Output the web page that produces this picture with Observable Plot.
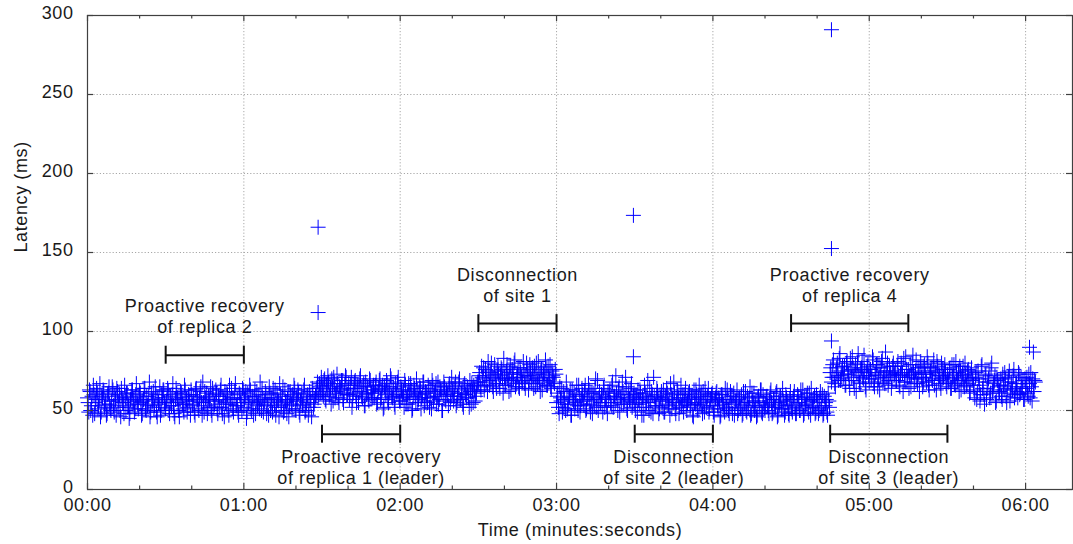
<!DOCTYPE html>
<html><head><meta charset="utf-8">
<script src="https://cdn.jsdelivr.net/npm/d3@7"></script>
<script src="https://cdn.jsdelivr.net/npm/@observablehq/plot@0.6"></script>
<style>body{margin:0;background:#fff} #chart svg{display:block}</style>
</head><body><div id="chart"></div>
<script>
// sampling period (s) and start time (s) of each run of samples
const sampleStep = 0.5;
const secondSetOffset = 0.25;
const segStart = [0, 88, 150, 180, 285, 340];

// latency (ms) samples (first set)
const latA = [
 58,49,62,53,47,60,55,64,51,57,46,59,63,52,56,48,61,54,50,65,
 53,59,47,62,56,50,64,55,48,58,61,52,45,57,63,54,49,60,56,51,
 62,55,48,57,64,50,53,59,46,61,56,52,65,49,58,54,47,60,63,55,
 51,57,62,48,55,60,53,46,64,58,50,56,61,54,49,63,57,52,59,47,
 60,54,49,63,56,51,58,65,47,55,62,53,48,59,57,50,64,52,56,61,
 48,57,63,52,59,46,55,61,50,66,54,58,49,62,53,57,47,60,55,64,
 52,58,45,61,56,63,50,54,59,48,62,55,51,57,64,49,56,60,53,47,
 61,55,49,58,63,52,57,46,60,54,65,50,56,48,62,53,59,51,57,64,
 50,56,61,47,58,53,63,49,55,60,52,57,46,62,54,59];
const latB = [
 64,58,67,61,
 66,59,70,56,63,68,60,54,65,71,58,62,67,55,64,69,57,61,72,60,
 63,57,66,52,61,68,59,64,55,70,62,58,67,53,60,65,56,69,61,63,
 58,66,54,62,69,57,63,51,65,60,67,55,61,70,58,64,52,62,68,59,
 56,63,60,52,66,58,54,61,67,50,59,64,55,62,57,65,51,60,68,56,
 61,55,64,58,51,66,59,62,54,68,57,63,50,60,65,56,61,53,67,59,
 62,56,65,53,59,68,57,61,54,66,60,58,64,52,62,67,55,63,59,66];
const latC = [
 68,74,63,71,77,66,72,62,75,69,80,65,73,70,64,78,67,72,76,61,
 71,66,79,69,74,63,76,70,82,67,73,65,77,71,68,75,64,80,72,69,
 74,67,72,78,65,70,81,68,75,63,73,69,77,66,71,79,64,72,68,76];
const latD = [
 55,61,48,58,64,52,57,50,62,54,59,47,63,56,51,60,53,66,49,57,
 60,54,66,51,58,63,49,56,61,53,70,57,50,62,55,59,64,52,58,48,
 57,63,53,68,59,55,61,50,65,58,54,62,56,71,51,60,57,64,52,59,
 54,60,49,57,63,52,58,47,61,55,69,50,56,62,48,59,53,64,57,51,
 58,52,63,49,56,61,54,47,60,57,68,51,55,62,48,58,53,60,56,64,
 50,57,62,53,59,46,55,63,51,58,54,61,48,56,64,52,59,49,57,60,
 53,47,58,62,51,56,47,60,54,49,57,63,50,55,59,48,61,52,56,48,
 57,51,60,48,54,62,49,55,58,47,61,53,50,56,47,59,52,63,48,55,
 50,58,53,48,61,55,49,57,52,62,47,54,59,51,56,47,60,53,48,57,
 54,49,59,52,48,60,55,50,57,63,48,53,58,51,61,47,56,52,59,49,
 55,48,58,51,60,48,53,57,47,56];
const latE = [
 74,68,79,71,65,77,72,83,69,75,
 70,78,66,81,73,64,76,84,69,75,62,80,72,67,77,71,85,65,74,79,
 68,76,72,82,65,74,79,70,63,77,83,71,67,75,80,69,73,64,78,72,
 75,69,81,66,73,78,62,71,84,68,76,72,65,79,74,70,82,67,73,77,
 71,65,78,73,68,80,63,75,70,77,66,74,81,69,72,64,76,71,79,67,
 73,68,77,64,71,79,66,74,69,62,75,70,78,65,72,67,76,61,73,69];
const latF = [
 66,58,74,62,70,56,78,64,60,72,57,68,75,61,80,63,69,55,71,65,
 62,70,57,66,74,59,64,71,56,68,63,76,60,67,58,73,61,65,69,57,
 64,71,59,67,74,56,62,69];

// second set of samples (interleaved with the first)
const latA2 = [
 55,63,50,59,66,48,57,61,53,67,49,58,62,54,47,60,65,51,56,63,
 49,57,64,52,60,46,58,55,66,50,61,53,48,59,63,56,51,67,54,58,
 61,47,56,64,51,59,54,68,49,57,62,53,60,46,55,65,50,58,63,52,
 56,64,50,59,53,67,48,57,61,55,46,62,58,51,66,54,49,60,56,63,
 53,59,47,64,57,50,62,55,68,49,58,61,52,56,65,47,60,54,63,51,
 59,52,66,48,56,62,54,60,47,57,64,51,58,67,53,49,61,55,50,63,
 57,62,49,55,66,51,59,47,63,56,53,60,68,50,58,54,62,48,57,65,
 50,58,64,53,47,61,56,67,52,59,49,63,55,57,46,62,54,60,66,51,
 58,63,49,56,61,54,66,50,59,47,62,55,64,52,57,60];
const latB2 = [
 68,60,65,71,
 62,69,57,66,72,59,64,70,56,67,61,73,58,65,63,69,55,66,71,60,
 67,60,71,57,64,69,55,66,62,72,59,65,53,68,61,57,70,63,58,66,
 61,68,55,64,70,58,66,52,63,69,57,65,72,59,62,54,67,60,71,56,
 65,58,62,69,54,60,67,57,63,51,66,59,70,55,61,64,58,68,53,62,
 58,66,52,63,69,56,61,67,59,54,65,62,50,68,57,63,60,66,55,71,
 64,59,68,55,61,70,57,63,52,67,60,65,58,69,54,62,66,56,61,68];
const latC2 = [
 72,65,78,70,63,76,68,81,66,74,71,62,79,67,75,73,64,77,70,83,
 66,75,70,62,78,68,73,80,65,71,77,64,74,69,81,67,72,76,63,79,
 70,77,64,73,80,67,71,62,76,69,74,82,66,78,70,65,75,71,67,73];
const latD2 = [
 59,52,65,56,49,62,54,68,51,58,63,47,57,61,55,66,50,59,53,64,
 56,62,50,59,67,54,61,48,57,64,52,69,58,55,60,49,66,57,53,62,
 61,55,66,52,59,72,57,63,49,60,68,54,58,65,50,62,56,67,55,61,
 50,58,63,54,61,47,57,66,52,59,55,64,49,60,71,53,57,62,48,58,
 62,56,49,59,64,53,57,67,51,55,61,48,63,58,52,66,56,49,60,54,
 55,61,52,58,47,63,54,60,50,66,57,53,62,49,59,55,64,51,57,61,
 49,56,61,53,58,46,60,55,51,64,52,57,48,62,54,59,47,56,63,50,
 58,53,47,62,55,50,59,52,65,48,56,61,53,46,58,55,63,49,60,52,
 54,59,50,56,63,48,57,52,61,46,55,59,51,64,53,49,58,56,47,62,
 51,57,62,48,55,59,50,63,53,47,58,54,61,49,56,64,52,57,48,60,
 57,50,62,53,47,59,55,49,61,52];
const latE2 = [
 77,71,82,67,74,80,69,86,72,78,
 73,66,80,75,69,83,71,77,64,79,74,86,68,76,81,70,75,63,78,72,
 76,70,84,67,73,79,65,77,72,81,68,75,87,71,66,78,74,69,80,73,
 69,78,72,65,80,74,83,68,76,71,64,79,73,85,67,75,70,77,62,81,
 74,68,79,71,84,66,73,77,69,82,75,63,78,72,67,80,70,76,74,65,
 70,76,64,79,72,67,81,69,74,78,63,73,68,80,66,75,71,62,77,70];
const latF2 = [
 63,71,57,75,66,60,79,68,54,73,64,70,58,77,62,67,72,56,69,61,
 66,59,73,63,70,55,68,75,61,65,72,58,67,62,74,60,71,64,57,70,
 67,61,73,58,65,70,62,68];

// isolated outliers
const outTime = [88.5, 88.5, 209.5, 209.5, 285.5, 285.5, 285.5, 361.5, 363];
const outLatency = [166, 112, 173.5, 84, 291, 152.5, 94, 90, 87];

// axes
const xMajor = [0, 60, 120, 180, 240, 300, 360];
const xMinor = [20, 40, 80, 100, 140, 160, 200, 220, 260, 280, 320, 340];
const yMajor = [0, 50, 100, 150, 200, 250, 300];

// event annotations
const annStart = [30, 90, 150, 210, 270, 285];
const annEnd = [60, 120, 180, 240, 315, 330];
const annLevel = [85, 35, 105, 35, 105, 35];
const annLine1 = ["Proactive recovery", "Proactive recovery", "Disconnection", "Disconnection", "Proactive recovery", "Disconnection"];
const annLine2 = ["of replica 2", "of replica 1 (leader)", "of site 1", "of site 2 (leader)", "of replica 4", "of site 3 (leader)"];
const annAbove = [true, false, true, false, true, false];

// ---- build tables
const points = [];
[latA, latB, latC, latD, latE, latF].forEach((vals, k) => vals.forEach((v, i) => points.push({t: segStart[k] + i * sampleStep, v})));
[latA2, latB2, latC2, latD2, latE2, latF2].forEach((vals, k) => vals.forEach((v, i) => points.push({t: segStart[k] + secondSetOffset + i * sampleStep, v})));
outTime.forEach((t, i) => points.push({t, v: outLatency[i]}));

const ann = annStart.map((t0, i) => ({t0, t1: annEnd[i], level: annLevel[i], l1: annLine1[i], l2: annLine2[i], above: annAbove[i], mid: (t0 + annEnd[i]) / 2}));
const caps = ann.flatMap(a => [{t: a.t0, level: a.level}, {t: a.t1, level: a.level}]);
const above = ann.filter(a => a.above), below = ann.filter(a => !a.above);

const plus = {draw(ctx) { const h = 7.5; ctx.moveTo(-h, 0); ctx.lineTo(h, 0); ctx.moveTo(0, -h); ctx.lineTo(0, h); }};
const fmt = d => String(Math.floor(d / 60)).padStart(2, "0") + ":" + String(d % 60).padStart(2, "0");

const FS = 18, INK = "#1a1a1a", AX = "#404040";
const tickStyle = {stroke: AX, strokeWidth: 1.2};

const chart = Plot.plot({
  width: 1073, height: 544,
  marginLeft: 87, marginRight: 1, marginTop: 15, marginBottom: 55,
  style: "font-family: 'Liberation Sans', Arial, sans-serif; letter-spacing: 0.6px; color: #1a1a1a; background: #fff;",
  x: {domain: [0, 378]},
  y: {domain: [0, 300]},
  marks: [
    Plot.gridX(xMajor.slice(1), {stroke: "#a8a8a8", strokeOpacity: 1, strokeDasharray: "1.2,2"}),
    Plot.gridY(yMajor.slice(1, -1), {stroke: "#a8a8a8", strokeOpacity: 1, strokeDasharray: "1.2,2"}),
    Plot.dot(points, {x: "t", y: "v", symbol: plus, stroke: "#0000ff", fill: "none", strokeWidth: 1}),
    Plot.ruleY(ann, {x1: "t0", x2: "t1", y: "level", stroke: "#111", strokeWidth: 2}),
    Plot.ruleX(caps, {x: "t", y1: "level", y2: "level", insetTop: -9, insetBottom: -9, stroke: "#111", strokeWidth: 2}),
    Plot.text(above, {x: "mid", y: "level", text: "l1", dy: -43, lineAnchor: "bottom", fontSize: FS, fill: INK}),
    Plot.text(above, {x: "mid", y: "level", text: "l2", dy: -22, lineAnchor: "bottom", fontSize: FS, fill: INK}),
    Plot.text(below, {x: "mid", y: "level", text: "l1", dy: 28.5, lineAnchor: "bottom", fontSize: FS, fill: INK}),
    Plot.text(below, {x: "mid", y: "level", text: "l2", dy: 49.5, lineAnchor: "bottom", fontSize: FS, fill: INK}),
    Plot.frame({stroke: AX, strokeWidth: 1.2}),
    // inward ticks, all four sides
    Plot.ruleX(xMajor, {x: d => d, y1: 0, y2: 0, insetTop: -6, ...tickStyle}),
    Plot.ruleX(xMinor, {x: d => d, y1: 0, y2: 0, insetTop: -3.5, ...tickStyle}),
    Plot.ruleX(xMajor, {x: d => d, y1: 300, y2: 300, insetBottom: -6, ...tickStyle}),
    Plot.ruleX(xMinor, {x: d => d, y1: 300, y2: 300, insetBottom: -3.5, ...tickStyle}),
    Plot.ruleY(yMajor, {y: d => d, x1: 0, x2: 0, insetRight: -6, ...tickStyle}),
    Plot.ruleY(yMajor, {y: d => d, x1: 378, x2: 378, insetLeft: -6, ...tickStyle}),
    Plot.axisX(xMajor, {tickSize: 0, tickPadding: 9, tickFormat: fmt, fontSize: FS, fill: INK, label: null}),
    Plot.axisY(yMajor, {tickSize: 0, tickPadding: 14, fontSize: FS, fill: INK, label: null, dy: -2}),
    Plot.text(["Time (minutes:seconds)"], {frameAnchor: "bottom", dy: 46.5, lineAnchor: "bottom", fontSize: FS, fill: INK}),
    Plot.text(["Latency (ms)"], {frameAnchor: "left", dx: -61, rotate: -90, lineAnchor: "bottom", fontSize: FS, fill: INK})
  ]
});
document.getElementById("chart").appendChild(chart);
</script>
</body></html>
